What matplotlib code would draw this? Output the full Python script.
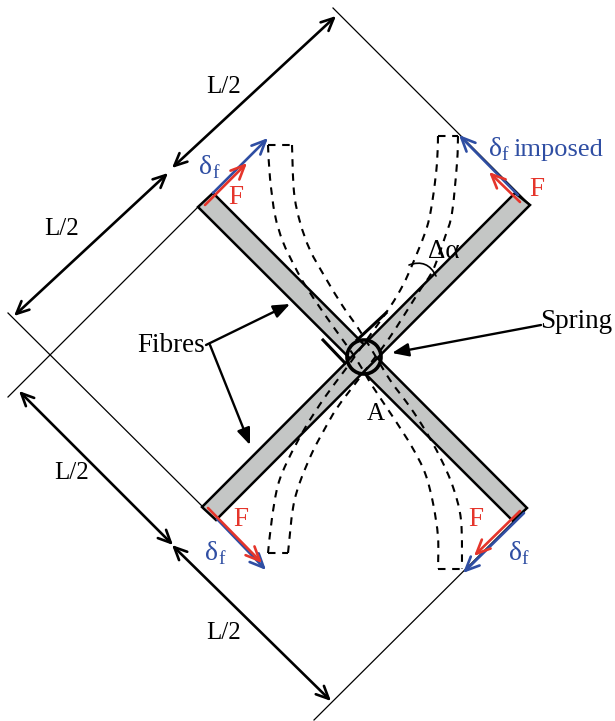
import matplotlib.pyplot as plt
from matplotlib.patches import Circle, PathPatch, Polygon
from matplotlib.path import Path

BLUE = "#2f4ea3"
RED = "#e5352b"
GREY = "#c4c6c5"
DASH = (0, (3.6, 3.2))

fibre_a = [(198, 207), (213, 193), (527, 508), (513, 521)]
fibre_b = [(515, 193), (530, 205), (216, 520), (202, 507)]

thin_lines = [
    ((333, 8), (530, 205)),
    ((198, 207), (8, 397)),
    ((203, 507), (8, 313)),
    ((527, 508), (314, 720)),
]

dim_arrows = [
    ((336, 16), (172, 168)),
    ((168, 173), (14, 316)),
    ((19, 391), (173, 545)),
    ((172, 545), (331, 701)),
]

# (x, y) of the deformed fibres, dashed
curve_a_left = [(268, 145), (270, 178), (275, 215), (283, 242), (295, 267), (305, 285), (325, 315), (345, 343), (358, 362), (373, 387), (393, 417), (412, 447), (425, 473), (433, 503), (438, 537), (438, 569)]
curve_a_right = [(292, 145), (294, 192), (300, 222), (310, 250), (325, 277), (342, 305), (358, 328), (373, 352), (390, 380), (410, 407), (425, 430), (440, 457), (453, 487), (461, 520), (462, 569)]
curve_b_left = [(438, 136), (437, 163), (433, 197), (427, 227), (413, 263), (403, 285), (390, 307), (368, 338), (345, 370), (325, 397), (305, 428), (288, 460), (278, 485), (272, 518), (268, 553)]
curve_b_right = [(458, 136), (457, 163), (452, 213), (445, 237), (433, 270), (420, 290), (403, 317), (388, 340), (373, 360), (358, 380), (337, 408), (323, 432), (312, 453), (300, 482), (293, 508), (288, 553)]

blue_arrows = [
    ((213, 193), (268, 138)),
    ((518, 195), (459, 135)),
    ((217, 519), (266, 570)),
    ((524, 513), (463, 573)),
]
red_arrows = [
    ((205, 205), (247, 163)),
    ((520, 202), (489, 172)),
    ((208, 508), (262, 563)),
    ((520, 511), (474, 556)),
]

pointer_arrows = [
    ((206, 345), (290, 304)),
    ((210, 345), (250, 445)),
    ((541, 325), (392, 353)),
]

black_labels = [
    ("L/2", 224, 87),
    ("L/2", 62, 229),
    ("L/2", 72, 473),
    ("L/2", 224, 633),
    ("A", 376, 414),
]
wide_labels = [
    ("Fibres", 171, 346),
    ("Spring", 576, 321),
    ("Δα", 444, 251),
]
force_labels = [(236, 197), (537, 189), (241, 519), (476, 519)]
delta_labels = [(206, 167), (212, 554), (515, 554), (495, 150)]

plt.rcParams["font.family"] = ["Liberation Serif", "DejaVu Serif"]

fig = plt.figure(figsize=(6.15, 7.21), dpi=100)
ax = fig.add_axes([0, 0, 1, 1])
ax.set_xlim(0, 615)
ax.set_ylim(721, 0)
ax.axis("off")


def arrow(start, end, color, style, lw, zorder=4):
    ax.annotate(
        "",
        xy=end,
        xytext=start,
        zorder=zorder,
        arrowprops=dict(arrowstyle=style, color=color, lw=lw, shrinkA=0, shrinkB=0),
    )


def draw_delta(x, y):
    ax.text(x, y, "δ", color=BLUE, fontsize=20, ha="center", va="center")
    ax.text(x + 10, y + 6, "f", color=BLUE, fontsize=14, ha="center", va="center")


def smooth_path(points):
    # bezier through the read points so the dashes follow a curve, not a polyline
    verts = [points[0]]
    codes = [Path.MOVETO]
    for i in range(len(points) - 1):
        p0 = points[max(i - 1, 0)]
        p1 = points[i]
        p2 = points[i + 1]
        p3 = points[min(i + 2, len(points) - 1)]
        c1 = (p1[0] + (p2[0] - p0[0]) / 6, p1[1] + (p2[1] - p0[1]) / 6)
        c2 = (p2[0] - (p3[0] - p1[0]) / 6, p2[1] - (p3[1] - p1[1]) / 6)
        verts += [c1, c2, p2]
        codes += [Path.CURVE4] * 3
    return Path(verts, codes)


for fibre in (fibre_a, fibre_b):
    ax.add_patch(Polygon(fibre, closed=True, facecolor=GREY, edgecolor="black", lw=1.8, zorder=2))

for start, end in thin_lines:
    ax.plot([start[0], end[0]], [start[1], end[1]], color="black", lw=0.9, zorder=3)

# dashed fibres plus the straight end caps
for left, right in ((curve_a_left, curve_a_right), (curve_b_left, curve_b_right)):
    for curve in (left, right):
        ax.add_patch(PathPatch(smooth_path(curve), fill=False, edgecolor="black", lw=1.5, ls=DASH, zorder=3))
    for end in (0, -1):
        ax.plot([left[end][0], right[end][0]], [left[end][1], right[end][1]], color="black", lw=1.5, ls=DASH, zorder=3)

# hinge
ax.add_patch(Circle((364, 357), 17, fill=False, edgecolor="black", lw=2.6, zorder=5))
ax.plot([386, 357], [313, 340], color="black", lw=2.2, zorder=5)
ax.plot([323, 345], [340, 363], color="black", lw=2.2, zorder=5)

# angle mark
ax.annotate(
    "",
    xy=(436, 276),
    xytext=(409, 265),
    zorder=4,
    arrowprops=dict(arrowstyle="-", color="black", lw=1.2, connectionstyle="arc3,rad=-0.45", shrinkA=0, shrinkB=0),
)

for start, end in dim_arrows:
    arrow(start, end, "black", "<->,head_length=0.9,head_width=0.42", 1.9)
for start, end in blue_arrows:
    arrow(start, end, BLUE, "->,head_length=1.0,head_width=0.45", 1.9, zorder=5)
for start, end in red_arrows:
    arrow(start, end, RED, "->,head_length=1.0,head_width=0.45", 1.9, zorder=6)
for start, end in pointer_arrows:
    arrow(start, end, "black", "-|>,head_length=1.0,head_width=0.4", 1.7)

for label, x, y in black_labels:
    ax.text(x, y, label, color="black", fontsize=18, ha="center", va="center", zorder=7)
for label, x, y in wide_labels:
    ax.text(x, y, label, color="black", fontsize=19.5, ha="center", va="center", zorder=7)
for x, y in force_labels:
    ax.text(x, y, "F", color=RED, fontsize=19.5, ha="center", va="center", zorder=7)
for x, y in delta_labels:
    draw_delta(x, y)
ax.text(513, 150, "imposed", color=BLUE, fontsize=19, ha="left", va="center")

fig.savefig("out.png", dpi=100)
plt.close(fig)
